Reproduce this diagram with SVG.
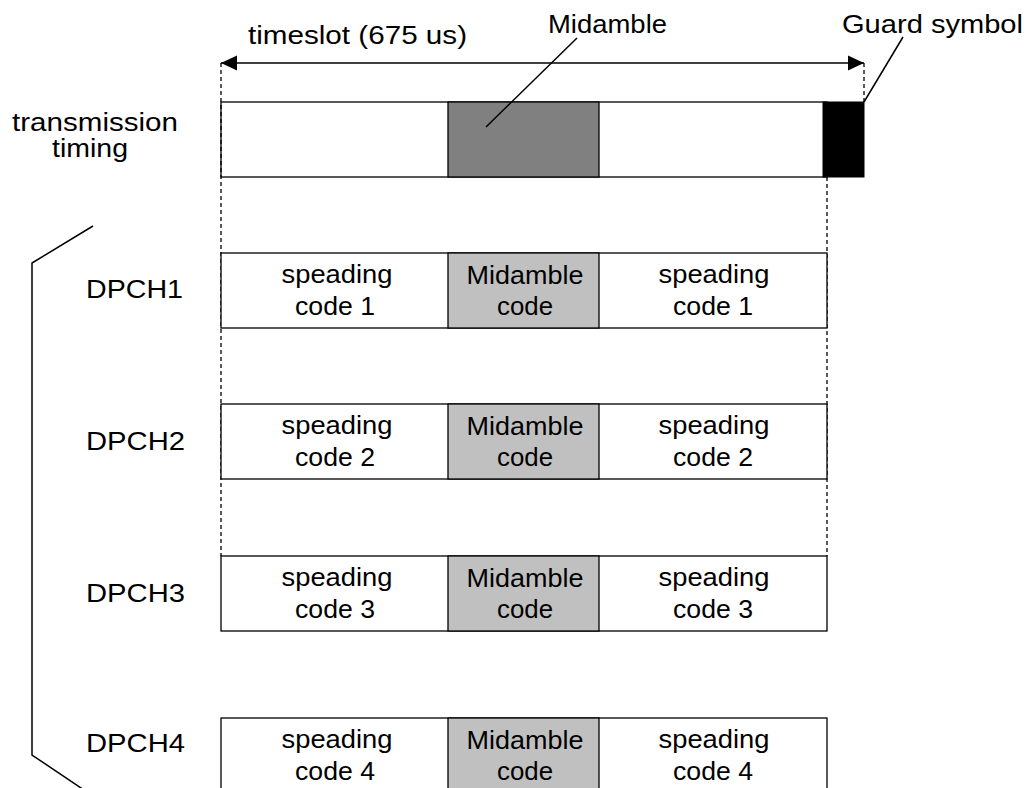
<svg xmlns="http://www.w3.org/2000/svg" width="1028" height="788" viewBox="0 0 1028 788">
<style>
text{font-family:"Liberation Sans",Arial,sans-serif;font-size:25px;fill:#000}
.c{text-anchor:middle}
.cell{fill:#fff;stroke:#000;stroke-width:1.3}
.mid{fill:#c0c0c0;stroke:#000;stroke-width:1.3}
.dash{fill:none;stroke:#000;stroke-width:1.3;stroke-dasharray:4,3}
.ln{fill:none;stroke:#000;stroke-width:1.5}
</style>
<defs>
<marker id="ah" viewBox="0 0 16 16" refX="16" refY="8" markerWidth="16" markerHeight="16" markerUnits="userSpaceOnUse" orient="auto-start-reverse">
<path d="M0,0.5 L16,8 L0,15.5 z" fill="#000"/>
</marker>
</defs>
<rect width="1028" height="788" fill="#fff"/>

<g id="labels">
<text x="248" y="44" textLength="219" lengthAdjust="spacingAndGlyphs">timeslot (675 us)</text>
<text x="548" y="33" textLength="119" lengthAdjust="spacingAndGlyphs">Midamble</text>
<text x="842" y="33" textLength="181" lengthAdjust="spacingAndGlyphs">Guard symbol</text>
<text x="12" y="131" textLength="166" lengthAdjust="spacingAndGlyphs">transmission</text>
<text x="52" y="157" textLength="76" lengthAdjust="spacingAndGlyphs">timing</text>
<text x="86" y="298" textLength="97" lengthAdjust="spacingAndGlyphs">DPCH1</text>
<text x="86" y="450" textLength="99" lengthAdjust="spacingAndGlyphs">DPCH2</text>
<text x="86" y="602" textLength="99" lengthAdjust="spacingAndGlyphs">DPCH3</text>
<text x="86" y="752" textLength="99" lengthAdjust="spacingAndGlyphs">DPCH4</text>
</g>

<g id="timing">
<rect class="cell" x="221" y="102" width="606" height="75"/>
<rect x="448" y="102" width="151" height="75" fill="#808080" stroke="#000" stroke-width="1.3"/>
<rect x="823" y="102" width="41" height="75" fill="#000" stroke="#000" stroke-width="1"/>
</g>

<g id="connectors">
<line class="ln" x1="221" y1="63" x2="864" y2="63" marker-start="url(#ah)" marker-end="url(#ah)"/>
<line class="dash" x1="221" y1="63" x2="221" y2="556"/>
<line class="dash" x1="864" y1="63" x2="864" y2="102"/>
<line class="dash" x1="827" y1="177" x2="827" y2="556"/>
<line class="ln" x1="577" y1="38" x2="486" y2="127"/>
<line class="ln" x1="903" y1="37" x2="864" y2="102"/>
<polyline class="ln" points="93,226 32,263 32,755 84,790"/>
</g>

<g id="dpch1">
<rect class="cell" x="221" y="253" width="606" height="75"/>
<rect class="mid" x="448" y="253" width="151" height="75"/>
<text class="c" x="337" y="283" textLength="111" lengthAdjust="spacingAndGlyphs">speading</text>
<text class="c" x="335" y="315" textLength="80" lengthAdjust="spacingAndGlyphs">code 1</text>
<text class="c" x="525" y="284" textLength="117" lengthAdjust="spacingAndGlyphs">Midamble</text>
<text class="c" x="525" y="315" textLength="56" lengthAdjust="spacingAndGlyphs">code</text>
<text class="c" x="714" y="283" textLength="111" lengthAdjust="spacingAndGlyphs">speading</text>
<text class="c" x="713" y="315" textLength="80" lengthAdjust="spacingAndGlyphs">code 1</text>
</g>

<g id="dpch2">
<rect class="cell" x="221" y="404" width="606" height="75"/>
<rect class="mid" x="448" y="404" width="151" height="75"/>
<text class="c" x="337" y="434" textLength="111" lengthAdjust="spacingAndGlyphs">speading</text>
<text class="c" x="335" y="466" textLength="80" lengthAdjust="spacingAndGlyphs">code 2</text>
<text class="c" x="525" y="435" textLength="117" lengthAdjust="spacingAndGlyphs">Midamble</text>
<text class="c" x="525" y="466" textLength="56" lengthAdjust="spacingAndGlyphs">code</text>
<text class="c" x="714" y="434" textLength="111" lengthAdjust="spacingAndGlyphs">speading</text>
<text class="c" x="713" y="466" textLength="80" lengthAdjust="spacingAndGlyphs">code 2</text>
</g>

<g id="dpch3">
<rect class="cell" x="221" y="556" width="606" height="75"/>
<rect class="mid" x="448" y="556" width="151" height="75"/>
<text class="c" x="337" y="586" textLength="111" lengthAdjust="spacingAndGlyphs">speading</text>
<text class="c" x="335" y="618" textLength="80" lengthAdjust="spacingAndGlyphs">code 3</text>
<text class="c" x="525" y="587" textLength="117" lengthAdjust="spacingAndGlyphs">Midamble</text>
<text class="c" x="525" y="618" textLength="56" lengthAdjust="spacingAndGlyphs">code</text>
<text class="c" x="714" y="586" textLength="111" lengthAdjust="spacingAndGlyphs">speading</text>
<text class="c" x="713" y="618" textLength="80" lengthAdjust="spacingAndGlyphs">code 3</text>
</g>

<g id="dpch4">
<rect class="cell" x="221" y="718" width="606" height="80"/>
<rect class="mid" x="448" y="718" width="151" height="80"/>
<text class="c" x="337" y="748" textLength="111" lengthAdjust="spacingAndGlyphs">speading</text>
<text class="c" x="335" y="780" textLength="80" lengthAdjust="spacingAndGlyphs">code 4</text>
<text class="c" x="525" y="749" textLength="117" lengthAdjust="spacingAndGlyphs">Midamble</text>
<text class="c" x="525" y="780" textLength="56" lengthAdjust="spacingAndGlyphs">code</text>
<text class="c" x="714" y="748" textLength="111" lengthAdjust="spacingAndGlyphs">speading</text>
<text class="c" x="713" y="780" textLength="80" lengthAdjust="spacingAndGlyphs">code 4</text>
</g>
</svg>
